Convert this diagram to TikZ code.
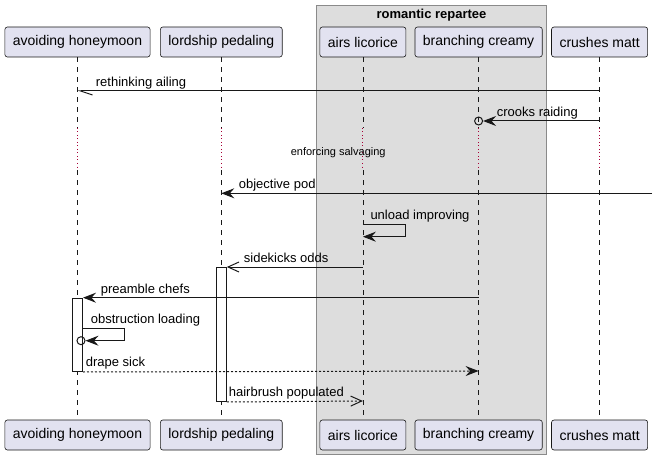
\documentclass[tikz,border=0pt]{standalone}
\usepackage{fontspec}
\setmainfont{Liberation Sans}
\usetikzlibrary{arrows.meta}
\definecolor{partfill}{HTML}{E2E2F0}
\definecolor{ink}{HTML}{181818}
\definecolor{grpfill}{HTML}{DDDDDD}
\definecolor{grpline}{HTML}{8A8A8A}
\definecolor{delayred}{HTML}{A80036}
\begin{document}
\begin{tikzpicture}[x=1pt,y=-1pt,
  part/.style={draw=ink, line width=0.6pt, fill=partfill, rounded corners=2.5pt,
    minimum height=30pt, inner xsep=8pt, inner ysep=0pt, font=\fontsize{14}{16}\selectfont},
  life/.style={draw=ink, line width=0.5pt, dash pattern=on 5pt off 5pt},
  delayline/.style={draw=delayred, line width=1pt, dash pattern=on 1pt off 2.5pt},
  msg/.style={draw=ink, line width=1pt},
  reply/.style={msg, dash pattern=on 2pt off 2pt},
  lbl/.style={anchor=base west, inner sep=0pt, font=\fontsize{13}{15}\selectfont},
  act/.style={draw=ink, line width=1pt, fill=white, inner sep=0pt, minimum width=10pt, anchor=north},
  filled/.style={-{Stealth[length=13pt,width=10pt,inset=4.5pt]}},
  openhead/.style={-{Straight Barb[length=11pt,width=10pt]}},
  halfhead/.style={-{Straight Barb[left,length=12pt,width=8pt]}},
  ring/.style={circle, draw=ink, line width=1pt, inner sep=0pt, minimum size=8pt}
  ]
\useasboundingbox (0,0) rectangle (657,460);

% group box
\draw[fill=grpfill, draw=grpline, line width=1pt] (316,6) rectangle (546.7,454);
\node[anchor=base, inner sep=0pt, font=\bfseries\fontsize{13}{15}\selectfont] (grptitle) at (431.5,18.5) {romantic repartee};

% participants
\node[part] (ahT) at (77.5,42) {avoiding honeymoon};
\node[part] (lpT) at (221.3,42) {lordship pedaling};
\node[part] (alT) at (362.9,42) {airs licorice};
\node[part] (bcT) at (478.6,42) {branching creamy};
\node[part] (cmT) at (599.6,42) {crushes matt};
\node[part] (ahB) at (77.5,435) {avoiding honeymoon};
\node[part] (lpB) at (221.3,435) {lordship pedaling};
\node[part] (alB) at (362.9,435) {airs licorice};
\node[part] (bcB) at (478.6,435) {branching creamy};
\node[part] (cmB) at (599.6,435) {crushes matt};

% lifelines
\foreach \p in {ah,lp,al,bc,cm}{
  \draw[life] (\p T.south) -- (\p T |- 0,128);
  \draw[delayline] (\p T |- 0,128) -- (\p T |- 0,170);
  \draw[life] (\p T |- 0,170) -- (\p B.north);
}

% activations
\node[act, minimum height=134pt] (lpact) at (lpT |- 0,267) {};
\node[act, minimum height=73.3pt] (ahact) at (ahT |- 0,297.7) {};

% 1 rethinking ailing
\draw[msg, halfhead] (cmT |- 0,91) -- (ahT |- 0,91);
\node[lbl] (l1) at (95.7,86.5) {rethinking ailing};

% 2 crooks raiding
\node[ring] (crk) at (bcT |- 0,121) {};
\draw[msg, filled] (cmT |- 0,121) -- (crk.east);
\node[lbl] (l2) at (496.7,116.5) {crooks raiding};

% delay
\node[anchor=base, inner sep=0pt, font=\fontsize{11}{13}\selectfont] (delay) at (338.2,155.5) {enforcing salvaging};

% 4 objective pod
\coordinate (redge) at (652,193.3);
\draw[msg, filled] (redge) -- (lpT |- 0,193.3);
\node[lbl] (l4) at (238.7,188.8) {objective pod};

% 5 unload improving (self)
\coordinate (u1) at (405.7,224.3);
\coordinate (u2) at (405.7,236.7);
\draw[msg, filled] (alT |- 0,224.3) -- (u1) -- (u2) -- (alT |- 0,236.7);
\node[lbl] (l5) at (370.3,219.8) {unload improving};

% 6 sidekicks odds
\draw[msg, openhead] (alT |- 0,267) -- (lpact.north east);
\node[lbl] (l6) at (243.7,262.5) {sidekicks odds};

% 7 preamble chefs
\draw[msg, filled] (bcT |- 0,297.7) -- (ahact.north east);
\node[lbl] (l7) at (100.7,293.2) {preamble chefs};

% 8 obstruction loading (self, lost circle)
\coordinate (o0) at (ahact.east |- 0,328.3);
\coordinate (o1) at (124.3,328.3);
\coordinate (o2) at (124.3,340.7);
\node[ring] (obc) at (81,340.7) {};
\draw[msg, filled] (o0) -- (o1) -- (o2) -- (obc.east);
\node[lbl] (l8) at (90.7,323.8) {obstruction loading};

% 9 drape sick
\draw[reply, filled] (ahact.south east) -- (bcT |- 0,371);
\node[lbl] (l9) at (85.7,366.5) {drape sick};

% 10 hairbrush populated
\draw[reply, openhead] (lpact.south east) -- (alT |- 0,401);
\node[lbl] (l10) at (228.7,396.5) {hairbrush populated};
\end{tikzpicture}
\end{document}
